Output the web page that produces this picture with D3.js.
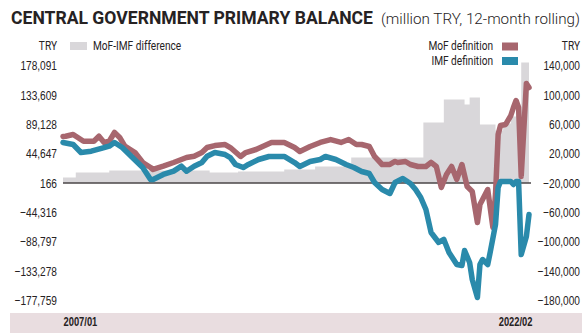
<!DOCTYPE html>
<html><head><meta charset="utf-8">
<script src="https://cdn.jsdelivr.net/npm/d3@7"></script>
<style>
html,body{margin:0;padding:0;background:#fff;}
svg{display:block;font-family:Roboto,"DejaVu Sans",sans-serif;}
</style></head><body>
<svg id="chart" width="587" height="335"></svg>
<script>
// ---- data (million TRY, 12-month rolling) ----
const mofDates = ["2007-01","2007-02","2007-05","2007-09","2008-01","2008-03","2008-05","2008-07","2008-09","2008-11","2009-01","2009-05","2009-08","2009-11","2009-12","2010-04","2010-08","2010-11","2011-01","2011-04","2011-07","2011-09","2011-12","2012-04","2012-06","2012-10","2012-12","2013-04","2013-10","2014-03","2014-07","2014-09","2015-01","2015-05","2015-09","2016-01","2016-04","2016-07","2016-09","2016-12","2017-02","2017-05","2017-08","2017-10","2017-11","2018-02","2018-04","2018-07","2018-10","2018-12","2019-02","2019-04","2019-06","2019-08","2019-10","2019-12","2020-02","2020-04","2020-06","2020-07","2020-08","2020-10","2020-12","2021-01","2021-02","2021-03","2021-05","2021-07","2021-08","2021-09","2021-10","2021-11","2022-01","2022-02"];
const mofValues = [43300,43700,46000,36900,36900,43700,35200,36900,48800,42000,30100,21500,7900,1100,-1600,2900,7900,12000,14700,16500,21500,28300,31000,32400,28300,16100,21500,25600,35200,35200,28300,22900,29700,35200,39200,35200,39200,32400,32400,29700,16100,5200,5200,9300,7900,9300,5200,2500,2500,8000,2500,-26100,-8400,2500,-15200,5200,-24800,-31600,-73800,-49300,-42500,-28900,-80600,-35000,46000,58300,59700,71900,82800,92300,82800,-11100,115500,110000];

const imfDates = ["2007-01","2007-05","2007-08","2007-12","2008-05","2008-07","2008-09","2008-12","2009-04","2009-08","2009-11","2009-12","2010-04","2010-08","2010-11","2011-01","2011-04","2011-07","2011-09","2011-12","2012-04","2012-06","2012-08","2012-11","2013-01","2013-05","2013-09","2014-03","2014-07","2014-09","2015-01","2015-05","2015-07","2015-11","2016-03","2016-06","2016-09","2016-12","2017-02","2017-05","2017-08","2017-10","2018-01","2018-04","2018-06","2018-08","2018-10","2018-12","2019-03","2019-05","2019-07","2019-10","2019-12","2020-01","2020-03","2020-04","2020-06","2020-07","2020-08","2020-10","2020-11","2021-01","2021-02","2021-03","2021-05","2021-07","2021-08","2021-09","2021-10","2021-11","2022-01","2022-02"];
const imfValues = [35100,32400,21500,23300,28300,30100,35100,28300,14700,1100,-15200,-15200,-8400,-3900,2900,-3900,2900,7900,16500,21500,18800,14700,5200,1100,5200,12000,16100,16100,7900,2500,9300,12000,16100,12000,5200,1100,-4300,-7100,-19300,-28900,-34300,-19300,-13900,-20700,-28900,-39700,-56100,-87400,-101000,-96900,-114600,-131000,-132300,-111900,-128300,-151400,-175900,-131000,-124200,-131000,-113300,-76500,-26100,-18000,-18000,-18000,-22000,-18000,-18000,-117400,-92800,-62900];

const diffDates = ["2007-01","2007-06","2008-07","2011-10","2012-09","2014-03","2015-03","2016-05","2018-09","2019-05","2020-01","2020-03","2020-07","2021-01","2021-04","2021-07","2021-09","2021-11"];
const diffValues = [8500,16000,19100,16000,17600,20600,25100,38800,91800,126600,119000,129600,88700,79700,90200,100800,109900,182600];

const leftTicks  = [178091,133609,89128,44647,166,-44316,-88797,-133278,-177759];
const rightTicks = [140000,100000,60000,20000,-20000,-60000,-100000,-140000,-180000];
const xTickDates = ["2007-01","2022-02"];

const titleText = "CENTRAL GOVERNMENT PRIMARY BALANCE";
const subtitleText = "(million TRY, 12-month rolling)";
const legendDiff = "MoF-IMF difference";
const legendMoF = "MoF definition";
const legendIMF = "IMF definition";
const unitLabel = "TRY";

// ---- colours ----
const colMoF = "#a7666e", colIMF = "#2a8aab", colDiff = "#d9d7da", colBand = "#e9dde0", colText = "#262223";

const parse = d3.timeParse("%Y-%m");
const mof = mofDates.map((d,i)=>({date:parse(d), v:mofValues[i]}));
const imf = imfDates.map((d,i)=>({date:parse(d), v:imfValues[i]}));
const diff = diffDates.map((d,i)=>({date:parse(d), v:diffValues[i]}));

const svg = d3.select("#chart");
const x = d3.scaleTime().domain([parse("2007-01"), parse("2022-02")]).range([63, 529]);
const yR = d3.scaleLinear().domain([-180000, 140000]).range([300.5, 65.5]);
const yL = d3.scaleLinear().domain([-177759, 178091]).range([300.5, 65.5]);

// title
svg.append("text").attr("x",11).attr("y",24).attr("fill",colText)
  .attr("font-size",17.5).attr("font-weight",700)
  .attr("textLength",362).attr("lengthAdjust","spacingAndGlyphs").text(titleText);
svg.append("text").attr("x",381).attr("y",24).attr("fill",colText)
  .attr("font-size",15).attr("font-weight",300)
  .attr("textLength",199).attr("lengthAdjust","spacingAndGlyphs").text(subtitleText);

// bottom band
svg.append("rect").attr("x",10).attr("y",313).attr("width",572).attr("height",20).attr("fill",colBand);

// difference area (left axis)
const diffExt = diff.concat([{date:x.domain()[1], v:diffValues[diffValues.length-1]}]);
svg.append("path").datum(diffExt)
  .attr("fill",colDiff)
  .attr("d", d3.area().curve(d3.curveStepAfter).x(d=>x(d.date)).y0(yL(0)).y1(d=>yL(d.v)));

// zero line
svg.append("line").attr("x1",x.range()[0]).attr("x2",x.range()[1]+2)
  .attr("y1",yR(-20000)).attr("y2",yR(-20000)).attr("stroke","#4a4647").attr("stroke-width",1.3);

// lines
const line = d3.line().x(d=>x(d.date)).y(d=>yR(d.v));
svg.append("path").datum(mof).attr("fill","none").attr("stroke",colMoF).attr("stroke-width",5.5)
  .attr("stroke-linejoin","round").attr("stroke-linecap","round").attr("d",line);
svg.append("path").datum(imf).attr("fill","none").attr("stroke",colIMF).attr("stroke-width",5.5)
  .attr("stroke-linejoin","round").attr("stroke-linecap","round").attr("d",line);

// axes
const sx = 0.78;
function styleAxis(g, pad){
  g.select(".domain").remove();
  g.selectAll("text").attr("fill",colText).attr("font-size",13).attr("font-weight",500)
    .attr("x",0).attr("transform",`translate(${pad},0) scale(${sx},1)`);
}
const fmt = d3.format(",");
svg.append("g").attr("transform","translate(57,0)")
  .call(d3.axisLeft(yL).tickValues(leftTicks).tickFormat(fmt).tickSize(0).tickPadding(0))
  .call(g=>styleAxis(g,0));
svg.append("g").attr("transform","translate(580,0)")
  .call(d3.axisLeft(yR).tickValues(rightTicks).tickFormat(fmt).tickSize(0).tickPadding(0))
  .call(g=>styleAxis(g,0));

// x axis labels in band
const xa = svg.append("g").attr("transform","translate(0,313)")
  .call(d3.axisBottom(x).tickValues(xTickDates.map(parse)).tickFormat(d3.timeFormat("%Y/%m")).tickSize(0).tickPadding(4));
xa.select(".domain").remove();
xa.selectAll("text").attr("fill",colText).attr("font-size",12).attr("font-weight",700)
  .attr("x",0).attr("text-anchor",(d,i)=>i===0?"start":"end")
  .attr("transform",(d,i)=>`translate(${i===0?0:3},0) scale(0.78,1)`);

// legend
const lg = svg.append("g").attr("fill",colText).attr("font-size",13).attr("font-weight",400);
function ltext(txt, xx, yy, anchor){
  lg.append("text").attr("text-anchor",anchor).attr("transform",`translate(${xx},${yy}) scale(0.78,1)`).text(txt);
}
ltext(unitLabel,57,50,"end");
lg.append("rect").attr("x",70).attr("y",42).attr("width",17).attr("height",8).attr("fill",colDiff);
ltext(legendDiff,93,50,"start");
ltext(legendMoF,493,50,"end");
lg.append("rect").attr("x",502).attr("y",42.5).attr("width",16).attr("height",8).attr("fill",colMoF);
ltext(legendIMF,493,65,"end");
lg.append("rect").attr("x",502).attr("y",57).attr("width",16).attr("height",8).attr("fill",colIMF);
ltext(unitLabel,580,50,"end");
</script>
</body></html>
